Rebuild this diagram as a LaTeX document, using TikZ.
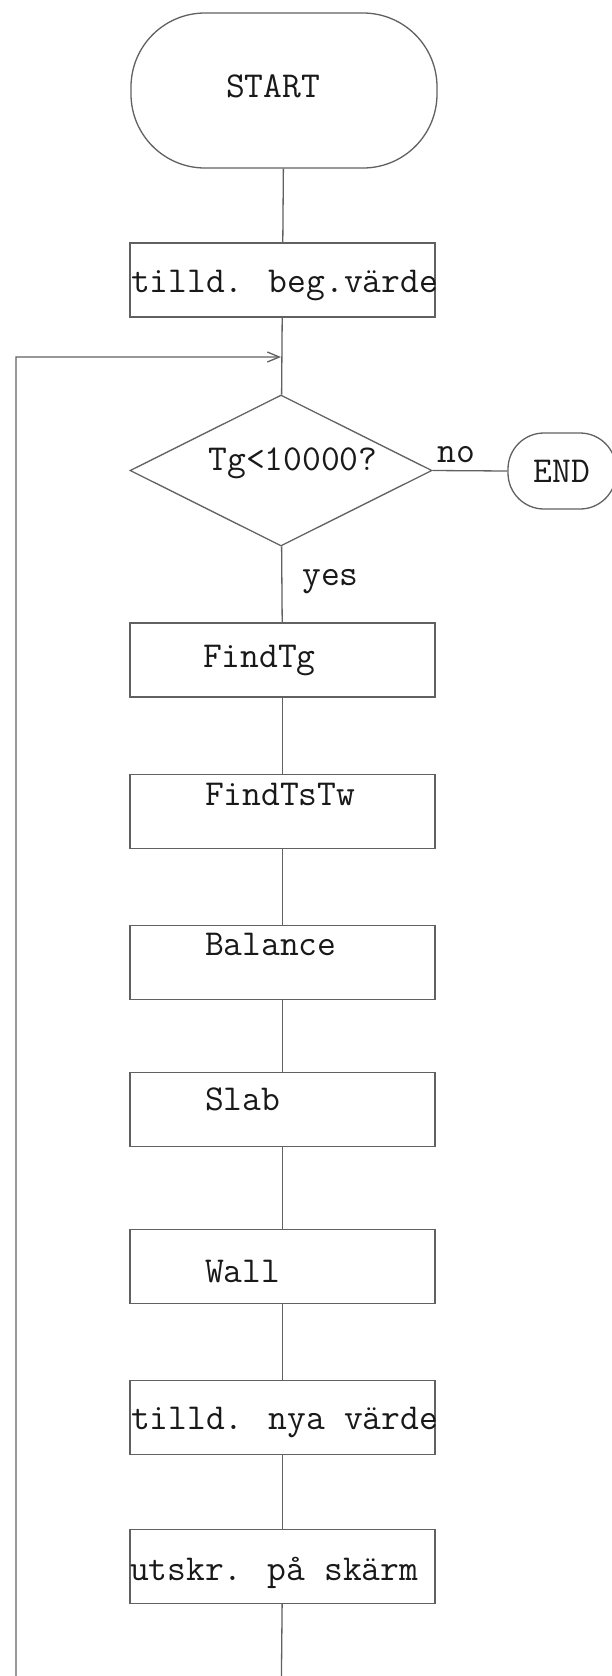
\documentclass[tikz,border=0pt]{standalone}
\usetikzlibrary{arrows.meta,shapes.geometric}
\definecolor{ink}{gray}{0.10}
\definecolor{wire}{gray}{0.38}
% box text: left offset, vertical raise of the baseline, text
\newcommand\boxtext[3]{\makebox[305pt][l]{\hspace*{#1}\raisebox{#2}[0pt][0pt]{#3}}}
\begin{document}
\begin{tikzpicture}[x=1pt,y=-1pt,
  every node/.style={text=ink, font=\ttfamily\fontsize{36.5}{40}\selectfont},
  conn/.style={draw=wire, line width=1.3pt},
  stepbox/.style={draw=wire, line width=1.3pt, rectangle, minimum width=305pt,
                  minimum height=74pt, inner sep=0pt},
  terminal/.style={draw=wire, line width=1.3pt, rectangle, inner sep=0pt},
  decision/.style={draw=wire, line width=1.3pt, diamond, inner sep=0pt,
                   minimum width=302pt, minimum height=151pt},
  tag/.style={anchor=base west, inner sep=0pt}]
\useasboundingbox (0,0) rectangle (612,1676);
\fill[white] (0,0) rectangle (612,1676);
\clip (0,0) rectangle (612,1676);

% terminals
\node[terminal, rounded corners=74pt, minimum width=306pt, minimum height=155pt]
  (start) at (284,90.5) {\makebox[306pt][l]{\hspace*{95pt}\raisebox{-6.5pt}[0pt][0pt]{START}}};
\node[terminal, rounded corners=36pt, minimum width=108pt, minimum height=76pt]
  (stop) at (562,471) {\raisebox{-11pt}[0pt][0pt]{END}};

% process boxes
\node[stepbox] (init)  at (282.5,280)    {\boxtext{1pt}{-12pt}{tilld. beg.värde}};
\node[decision] (test) at (281,470.5)    {\makebox[0pt]{\hspace*{24pt}\raisebox{0.5pt}[0pt][0pt]{Tg<10000?}}};
\node[stepbox] (ftg)   at (282.5,660)    {\boxtext{73pt}{-7pt}{FindTg}};
\node[stepbox] (ftstw) at (282.5,811.5)  {\boxtext{75pt}{6.5pt}{FindTsTw}};
\node[stepbox] (bal)   at (282.5,962.5)  {\boxtext{75pt}{7.5pt}{Balance}};
\node[stepbox] (slab)  at (282.5,1109.5) {\boxtext{75pt}{-0.5pt}{Slab}};
\node[stepbox] (wall)  at (282.5,1266.5) {\boxtext{75pt}{-15.5pt}{Wall}};
\node[stepbox] (nya)   at (282.5,1417.5) {\boxtext{1pt}{-11.5pt}{tilld. nya värde}};
\node[stepbox] (utskr) at (282.5,1566.5) {\boxtext{0pt}{-13.5pt}{utskr. på skärm}};

% branch labels
\node[tag] (nolbl)  at (437,462) {no};
\node[tag] (yeslbl) at (302,585) {yes};

% loop corner points
\coordinate (join) at (281,357);
\coordinate (bot)  at (281,1720);
\coordinate (botl) at (16,1720);
\coordinate (topl) at (16,357);

% connectors
\draw[conn] (start) -- (init);
\draw[conn] (init) -- (test);
\draw[conn] (test.east) -- (stop.west);
\draw[conn] (test) -- (ftg);
\draw[conn] (ftg) -- (ftstw);
\draw[conn] (ftstw) -- (bal);
\draw[conn] (bal) -- (slab);
\draw[conn] (slab) -- (wall);
\draw[conn] (wall) -- (nya);
\draw[conn] (nya) -- (utskr);
\draw[conn, -{Straight Barb[length=12pt,width=10pt]}]
  (utskr) -- (bot) -- (botl) -- (topl) -- (join);
\end{tikzpicture}
\end{document}
